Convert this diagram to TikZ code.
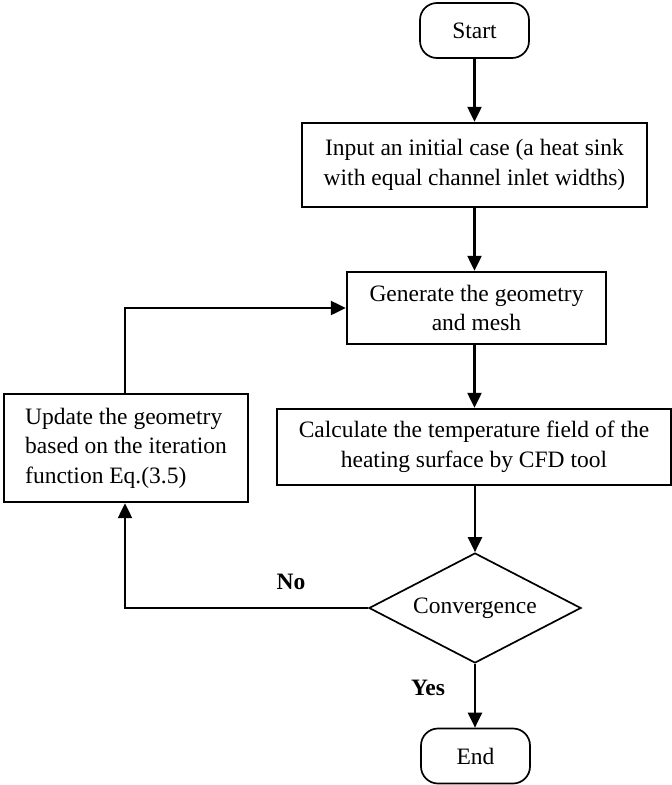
\documentclass[tikz,border=0pt]{standalone}
\usepackage{fontspec}
\setmainfont{Liberation Serif}
\usetikzlibrary{shapes.geometric,arrows.meta}
\begin{document}
\begin{tikzpicture}[x=1pt,y=-1pt,
  txt/.style={font=\fontsize{23.5}{29.5}\selectfont},
  box/.style={draw,line width=2.4pt,inner sep=0pt,align=center,txt},
  term/.style={draw,line width=1.7pt,rounded corners=17pt,inner sep=0pt,txt,minimum width=109pt,minimum height=55pt},
  dec/.style={draw,diamond,aspect=1.93,line width=1.7pt,inner sep=0pt,txt,minimum width=212pt,minimum height=110pt},
  conn/.style={line width=2.3pt,-{Triangle[length=15pt,width=14pt]}},
  lab/.style={font=\bfseries\fontsize{23.5}{28}\selectfont,inner sep=0pt}]
\useasboundingbox (0,0) rectangle (672,785);
\node[term] (start) at (474.5,30.5) {Start};
\node[box,minimum width=345pt,minimum height=84pt] (input) at (474.5,165) {Input an initial case (a heat sink\\with equal channel inlet widths)};
\node[box,minimum width=259pt,minimum height=72pt] (gen) at (476.5,308) {Generate the geometry\\and mesh};
\node[box,minimum width=394pt,minimum height=76pt] (calc) at (474,447) {Calculate the temperature field of the\\heating surface by CFD tool};
\node[box,minimum width=244pt,minimum height=108pt,align=left] (upd) at (126,448) {Update the geometry\\based on the iteration\\function Eq.(3.5)};
\node[dec] (conv) at (475,608) {Convergence};
\node[term] (end) at (475.5,756) {End};
\node[lab] (no) at (291,582) {No};
\node[lab] (yes) at (428,688) {Yes};
\coordinate (c1) at (125,608);
\coordinate (c2) at (125,308);
\draw[conn] (start.south) -- (start.south |- input.north);
\draw[conn] (input.south -| start.south) -- (start.south |- gen.north);
\draw[conn] (gen.south -| start.south) -- (start.south |- calc.north);
\draw[conn] (calc.south -| conv.north) -- (conv.north);
\draw[conn] (conv.south) -- (end.north -| conv.south);
\draw[conn] (conv.west) -- (c1) -- (c1 |- upd.south);
\draw[conn] (c1 |- upd.north) -- (c2) -- (gen.west);
\end{tikzpicture}
\end{document}
